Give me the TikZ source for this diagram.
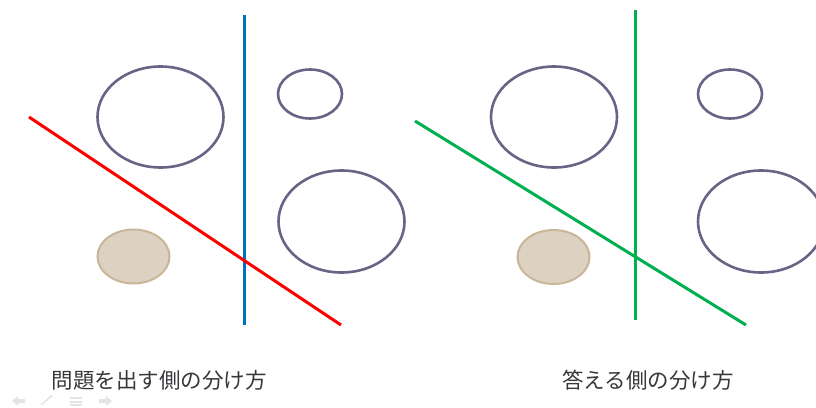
\documentclass[tikz,border=0pt]{standalone}
\usepackage{fontspec}
\setmainfont{Noto Sans CJK JP}
\usetikzlibrary{positioning}
\definecolor{RingGray}{RGB}{104,100,134}
\definecolor{SandFill}{RGB}{221,209,193}
\definecolor{SandLine}{RGB}{201,182,152}
\definecolor{CutBlue}{RGB}{0,112,192}
\definecolor{CutRed}{RGB}{255,0,0}
\definecolor{CutGreen}{RGB}{0,176,80}
\definecolor{CaptionGray}{RGB}{55,55,60}
\definecolor{NavGray}{RGB}{228,228,228}
\tikzset{
  ring/.style={draw=RingGray,line width=2.6pt},
  sand/.style={draw=SandLine,fill=SandFill,line width=2pt},
  cut/.style={line width=3pt},
  caption/.style={font=\fontsize{21.5}{24}\selectfont,text=CaptionGray,inner sep=0pt},
  navicon/.style={fill=NavGray,draw=none}
}

\begin{document}
\begin{tikzpicture}[x=1pt,y=-1pt]
\useasboundingbox (0,0) rectangle (816,407);
\clip (0,0) rectangle (816,407);

% left panel
\draw[ring] (160.5,117) ellipse [x radius=63, y radius=50.5];
\draw[ring] (310,94) ellipse [x radius=32, y radius=24.5];
\draw[ring] (341.5,221.5) ellipse [x radius=63, y radius=51];
\draw[sand] (133.5,256.5) ellipse [x radius=36, y radius=27];

\draw[cut,CutBlue] (244,15) -- (244,325);
\draw[cut,CutRed] (29,117) -- (341,325);

\node[caption] (askcap) at (159,380) {問題を出す側の分け方};

% right panel
\draw[ring] (554,117) ellipse [x radius=63, y radius=50.5];
\draw[ring] (730,94) ellipse [x radius=32, y radius=24.5];
\draw[ring] (761,221.5) ellipse [x radius=63, y radius=51];
\draw[sand] (553.5,257) ellipse [x radius=36, y radius=27];

\draw[cut,CutGreen] (635,10) -- (635,320);
\draw[cut,CutGreen] (415,121) -- (746,325);

\node[caption] (answercap) at (648,380) {答える側の分け方};

% slide navigation
\fill[navicon] (12,401) -- (18,396) -- (18,399) -- (25,399) -- (25,403) -- (18,403) -- (18,406) -- cycle;
\fill[navicon] (40,405) -- (42,405) -- (53,396) -- (51,395) -- cycle;
\foreach \yy in {397,400.5,404}
  \fill[navicon] (70,\yy) rectangle (82,\yy+2);
\fill[navicon] (112,401) -- (106,396) -- (106,399) -- (99,399) -- (99,403) -- (106,403) -- (106,406) -- cycle;

\end{tikzpicture}
\end{document}
